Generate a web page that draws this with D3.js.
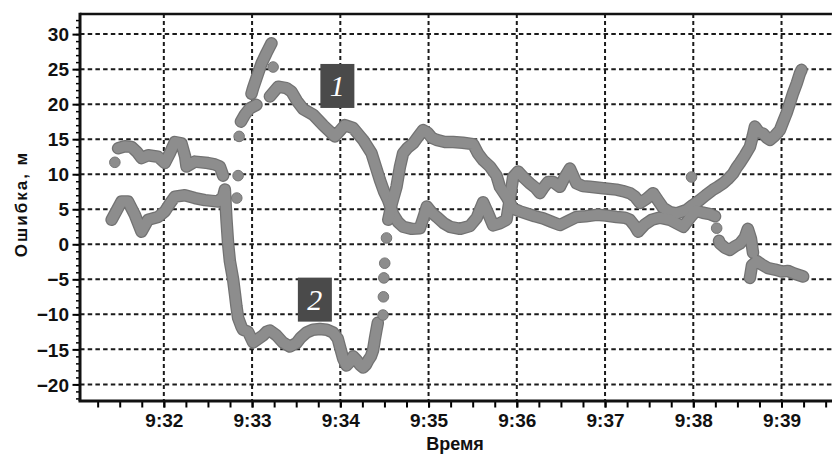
<!DOCTYPE html>
<html>
<head>
<meta charset="utf-8">
<script src="https://cdn.jsdelivr.net/npm/d3@7"></script>
<style>
body { margin: 0; background: #fff; }
text { font-family: "Liberation Sans", Arial, sans-serif; }
</style>
</head>
<body>
<div id="chart"></div>
<script>
// time = seconds after 9:31:00, value = error in metres; null = gap in the track
var series1 = [
  [28.9,13.7],[33.5,14.0],[38.0,13.9],[41.6,13.2],[44.8,12.3],[49.3,12.7],[56.1,12.5],[60.7,11.6],[64.1,13.0],[67.5,14.6],
  [72.0,14.4],[74.5,12.5],[75.4,11.1],[81.1,11.8],[90.1,11.6],[94.7,11.4],[98.1,11.1],[100.3,9.8],
  null,
  [112.4,17.5],[115.1,18.5],[118.5,19.4],[123.0,19.9],
  null,
  [119.6,21.5],[120.7,22.3],[124.1,24.4],[126.4,25.8],[129.8,27.3],[133.2,28.7],
  null,
  [132.1,21.1],[137.7,22.5],[143.4,22.3],[146.8,21.8],[150.4,20.5],[154.7,19.3],[161.5,18.5],[168.3,17.0],[176.3,15.4],
  [179.7,16.2],[183.1,17.0],[188.7,16.6],[195.5,14.9],[201.2,13.0],[204.2,11.0],[206.9,9.2],[209.6,7.6],[212.5,6.3],
  [215.9,4.3],[219.1,3.2],[222.7,2.5],[228.6,2.2],[234.1,2.3],[236.8,4.0],[238.8,5.4],[242.2,4.5],[245.6,3.9],[250.4,3.0],
  [254.5,2.5],[261.3,2.2],[268.1,2.6],[272.8,3.8],[277.1,6.0],[280.3,4.5],[283.9,2.7],[288.5,3.0],[293.0,3.5],[295.3,6.5],
  [297.5,9.6],[300.9,10.4],[304.8,9.5],[308.9,8.7],[313.0,8.0],[315.7,7.3],[317.9,8.0],[321.3,8.9],[324.7,8.9],[329.3,8.2],
  [332.7,9.6],[336.1,10.8],[340.6,8.7],[344.9,8.3],[349.7,8.2],[358.7,8.0],[367.8,7.8],[372.1,7.6],[376.9,7.3],[380.3,6.8],
  [383.7,5.9],[388.2,6.5],[392.7,7.3],[395.9,6.3],[399.5,5.2],[404.1,4.6],[408.6,4.4],[415.4,4.9],[419.7,5.6],[424.4,6.3],
  [428.5,7.0],[433.5,7.8],[436.7,8.2],[440.3,8.7],[443.5,9.3],[447.1,10.1],[449.6,11.0],[451.7,11.6],[455.1,12.7],[458.5,13.9],
  [460.5,15.5],[461.9,16.8],[464.6,16.0],[467.5,15.8],[470.0,15.2],[472.1,14.9],[475.5,15.5],[478.9,16.3],[481.1,17.5],
  [483.4,18.7],[485.6,20.1],[487.9,21.6],[490.4,23.0],[492.5,24.4],[493.6,24.9]
];
var series1Dots = [[26.7,11.7],[110.5,9.8],[111.2,15.4],[134.3,25.3],[418.8,9.6]];

var series2 = [
  [24.5,3.5],[31.2,6.1],[35.7,6.1],[40.3,4.2],[44.8,1.8],[49.3,3.5],[56.1,3.9],[60.7,4.7],[64.1,5.8],[67.5,6.8],
  [74.3,7.0],[81.1,6.6],[87.9,6.3],[92.6,6.2],[96.9,6.1],[100.3,6.8],[101.5,7.8],[102.6,3.5],[103.7,0.1],[104.9,-2.4],
  [107.1,-5.0],[108.3,-7.0],[109.4,-8.9],[110.5,-10.5],[112.8,-11.8],[113.9,-12.2],[117.3,-12.5],[120.7,-14.0],[124.1,-13.5],
  [127.5,-13.0],[129.8,-12.5],[132.1,-12.3],[136.6,-13.0],[140.9,-14.0],[145.7,-14.6],[150.2,-14.1],[153.2,-13.3],
  [157.0,-12.6],[161.3,-12.2],[166.1,-12.1],[170.8,-12.2],[175.1,-12.6],[178.3,-13.5],[179.7,-14.6],[181.9,-16.3],
  [184.2,-17.3],[186.5,-16.8],[188.7,-16.0],[191.0,-16.5],[193.3,-17.2],[195.5,-17.6],[197.4,-17.2],[198.9,-16.6],
  [200.8,-16.0],[202.3,-15.1],[203.5,-13.5],[204.6,-12.2],[205.5,-11.2],
  null,
  [212.6,3.5],[215.0,5.8],[218.2,8.2],[220.5,11.0],[222.7,13.0],[225.9,13.8],[229.5,14.4],[232.7,15.3],[236.3,16.3],
  [239.5,15.9],[242.2,15.2],[245.4,14.9],[251.1,14.6],[256.7,14.6],[263.3,14.5],[270.3,14.3],[273.5,13.0],[277.1,12.0],
  [281.7,11.1],[286.2,9.8],[288.5,8.2],[293.0,6.8],[297.5,5.1],[302.1,4.7],[306.6,4.4],[312.3,4.0],[317.9,3.7],[323.8,3.2],
  [329.3,2.75],[334.7,3.3],[340.6,3.9],[346.9,4.0],[354.2,4.2],[360.5,4.1],[367.8,3.9],[373.5,3.8],[376.9,3.5],[380.3,2.6],
  [382.5,1.8],[386.9,2.8],[391.8,3.5],[397.2,3.8],[404.1,3.5],[408.6,3.0],[413.2,2.5],[417.8,3.8],[421.9,4.8],[426.6,4.5],
  [431.4,4.3],[434.8,4.0],
  null,
  [437.5,0.5],[438.1,0.1],[441.5,-0.5],[444.9,-0.8],[448.3,-0.3],[451.7,0.1],[455.1,1.0],[457.1,2.2],[459.2,0.8],[460.6,-1.2],
  null,
  [458.5,-4.8],[459.9,-3.0],[463.3,-2.4],[466.7,-2.9],[470.8,-3.4],[475.5,-3.6],[480.2,-3.9],[484.3,-3.8],[489.0,-4.2],[494.7,-4.6]
];
var series2Dots = [[109.6,6.6],[209.0,-10.1],[209.3,-7.5],[209.6,-4.8],[210.2,-2.7],[211.4,0.9],[435.9,2.3]];

var yTicks = [-20, -15, -10, -5, 0, 5, 10, 15, 20, 25, 30];
var labelText = ["1", "2"];
var labelTime = [178, 162.7];
var labelErr = [22.6, -7.9];

var margin = { top: 14, left: 80 },
  width = 753,
  height = 387;

function toTime(s) {
  return new Date(2021, 0, 1, 9, 31, 0, Math.round(s * 1000));
}

// Add X axis
var x = d3.scaleTime().domain([toTime(3), toTime(515)]).range([0, width]);

// Add Y axis
var y = d3.scaleLinear().domain([-22.37, 32.87]).range([height, 0]);

var svg = d3
  .select("#chart")
  .append("svg")
  .attr("width", 832)
  .attr("height", 455)
  .append("g")
  .attr("transform", "translate(" + margin.left + "," + margin.top + ")");

var minutes = x.ticks(d3.timeMinute.every(1));

// dashed grid
svg
  .append("g")
  .selectAll("line")
  .data(yTicks)
  .enter()
  .append("line")
  .attr("x1", 0)
  .attr("x2", width)
  .attr("y1", function (d) { return y(d); })
  .attr("y2", function (d) { return y(d); })
  .style("stroke", "#1a1a1a")
  .style("stroke-width", 2)
  .style("stroke-dasharray", "4.5,3.2");

svg
  .append("g")
  .selectAll("line")
  .data(minutes)
  .enter()
  .append("line")
  .attr("x1", function (d) { return x(d); })
  .attr("x2", function (d) { return x(d); })
  .attr("y1", 0)
  .attr("y2", height)
  .style("stroke", "#1a1a1a")
  .style("stroke-width", 2)
  .style("stroke-dasharray", "4,3");

// tracks
var line = d3
  .line()
  .defined(function (d) { return d !== null; })
  .x(function (d) { return x(toTime(d[0])); })
  .y(function (d) { return y(d[1]); });

[series1, series2].forEach(function (s) {
  svg
    .append("path")
    .datum(s)
    .attr("d", line)
    .style("fill", "none")
    .style("stroke", "#727272")
    .style("stroke-width", 12.5)
    .style("stroke-linejoin", "round")
    .style("stroke-linecap", "round");
});
[series1, series2].forEach(function (s) {
  svg
    .append("path")
    .datum(s)
    .attr("d", line)
    .style("fill", "none")
    .style("stroke", "#8d8d8d")
    .style("stroke-width", 10)
    .style("stroke-linejoin", "round")
    .style("stroke-linecap", "round");
});

// single samples
svg
  .append("g")
  .selectAll("circle")
  .data(series1Dots.concat(series2Dots))
  .enter()
  .append("circle")
  .attr("cx", function (d) { return x(toTime(d[0])); })
  .attr("cy", function (d) { return y(d[1]); })
  .attr("r", 5.3)
  .style("fill", "#8d8d8d")
  .style("stroke", "#767676")
  .style("stroke-width", 1);

// minor ticks
svg
  .append("g")
  .attr("transform", "translate(0," + height + ")")
  .call(d3.axisBottom(x).ticks(d3.timeSecond.every(15)).tickSize(6.5).tickFormat(""))
  .call(function (g) { g.select(".domain").remove(); })
  .selectAll("line")
  .style("stroke-width", 2);

svg
  .append("g")
  .call(d3.axisLeft(y).tickValues(d3.range(-22, 33)).tickSize(4).tickFormat(""))
  .call(function (g) { g.select(".domain").remove(); })
  .selectAll("line")
  .style("stroke-width", 1.5);

// labelled ticks
var xAxis = svg
  .append("g")
  .attr("transform", "translate(0," + height + ")")
  .call(d3.axisBottom(x).tickValues(minutes).tickSize(6.5).tickFormat(d3.timeFormat("%-H:%M")));
xAxis.select(".domain").remove();
xAxis.selectAll("line").style("stroke-width", 2);
xAxis
  .selectAll("text")
  .attr("y", 25.5)
  .attr("dy", null)
  .style("font-size", "19px")
  .style("font-weight", "bold")
  .style("fill", "#111");

var yAxis = svg
  .append("g")
  .call(d3.axisLeft(y).tickValues(yTicks).tickSize(7.5).tickPadding(3.5));
yAxis.select(".domain").remove();
yAxis.selectAll("line").style("stroke-width", 2);
yAxis
  .selectAll("text")
  .attr("dy", "0.35em")
  .style("font-size", "19px")
  .style("font-weight", "bold")
  .style("fill", "#111");

// frame
svg.append("line").attr("x1", 0).attr("x2", width).attr("y1", 0).attr("y2", 0)
  .style("stroke", "#111").style("stroke-width", 2.5);
svg.append("line").attr("x1", -1.5).attr("x2", width).attr("y1", height).attr("y2", height)
  .style("stroke", "#111").style("stroke-width", 3);
svg.append("line").attr("x1", 0).attr("x2", 0).attr("y1", -1.2).attr("y2", height)
  .style("stroke", "#111").style("stroke-width", 3);

// curve numbers
var tags = svg
  .append("g")
  .selectAll("g")
  .data(labelText)
  .enter()
  .append("g")
  .attr("transform", function (d, i) {
    return "translate(" + x(toTime(labelTime[i])) + "," + y(labelErr[i]) + ")";
  });
tags
  .append("rect")
  .attr("x", -17)
  .attr("y", -22)
  .attr("width", 34)
  .attr("height", 44)
  .style("fill", "#4a4a4a");
tags
  .append("text")
  .attr("text-anchor", "middle")
  .attr("y", 10.5)
  .style("font-family", "'Liberation Serif', 'Times New Roman', serif")
  .style("font-style", "italic")
  .style("font-size", "30px")
  .style("fill", "#fff")
  .text(function (d) { return d; });

// axis titles
svg
  .append("text")
  .attr("x", 375)
  .attr("y", 436)
  .attr("text-anchor", "middle")
  .style("font-size", "18px")
  .style("font-weight", "bold")
  .style("fill", "#111")
  .text("Время");

svg
  .append("text")
  .attr("transform", "translate(-53," + 190 + ") rotate(-90)")
  .attr("text-anchor", "middle")
  .style("font-size", "17px")
  .style("font-weight", "bold")
  .style("letter-spacing", "2px")
  .style("fill", "#111")
  .text("Ошибка, м");
</script>
</body>
</html>
